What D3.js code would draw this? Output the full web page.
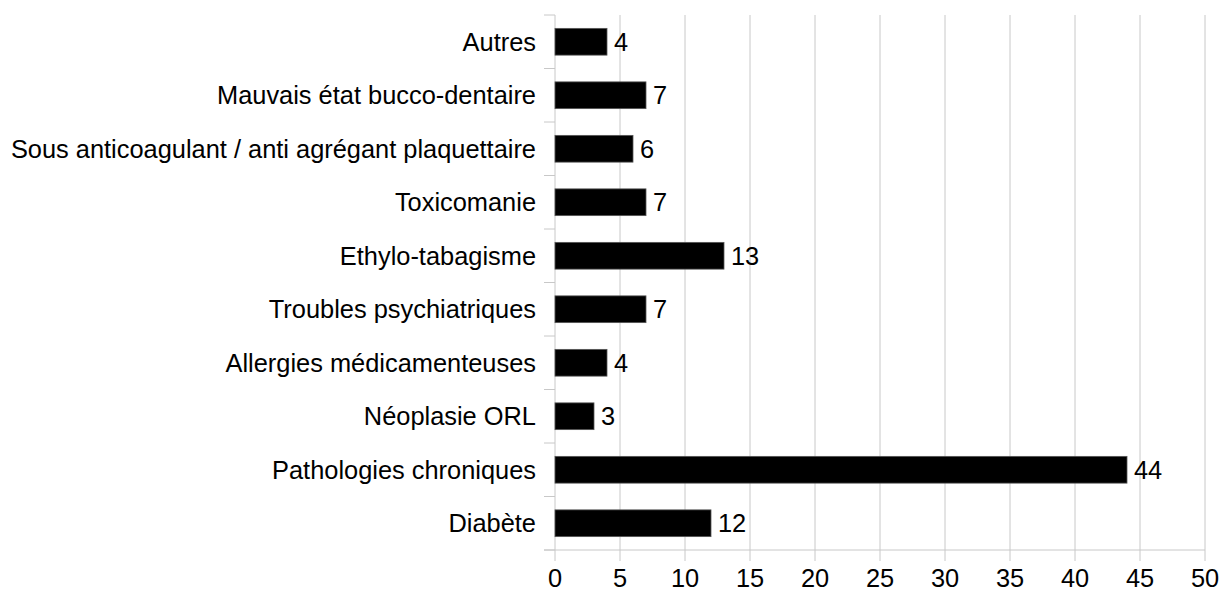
<!DOCTYPE html>
<html lang="fr">
  <head>
    <meta charset="utf-8">
    <title>Antécédents</title>
    <style>
      body { margin: 0; background: #fff; }
      svg { display: block; font-family: "Liberation Sans", Arial, sans-serif; }
    </style>
    <script src="https://d3js.org/d3.v7.min.js"></script>
  </head>
  <body>
    <div class="chart"></div>
    <script>
    const categories = ["Autres", "Mauvais état bucco-dentaire", "Sous anticoagulant / anti agrégant plaquettaire",
      "Toxicomanie", "Ethylo-tabagisme", "Troubles psychiatriques", "Allergies médicamenteuses",
      "Néoplasie ORL", "Pathologies chroniques", "Diabète"]
    const values = [4, 7, 6, 7, 13, 7, 4, 3, 44, 12]
    const xTicks = [0, 5, 10, 15, 20, 25, 30, 35, 40, 45, 50]

    const width = 1222, height = 594
    const margin = { top: 15, right: 17, bottom: 44, left: 555 }
    const fontSize = "25.4px"

    const svg = d3.select(".chart").append("svg")
      .attr("width", width)
      .attr("height", height)

    const x = d3.scaleLinear()
      .domain([0, 50])
      .range([margin.left, width - margin.right])

    const y = d3.scaleBand()
      .domain(categories)
      .range([margin.top, height - margin.bottom])
      .paddingInner(0.5)
      .paddingOuter(0.25)

    // vertical grid + ticks below
    svg.append("g")
      .selectAll("line")
      .data(xTicks)
      .join("line")
      .attr("x1", d => x(d)).attr("x2", d => x(d))
      .attr("y1", margin.top).attr("y2", height - margin.bottom + 11)
      .attr("stroke", "#c8c8c8")
      .attr("stroke-width", 1)

    // category separator ticks on the left
    const step = y.step()
    svg.append("g")
      .selectAll("line")
      .data(d3.range(categories.length + 1))
      .join("line")
      .attr("x1", margin.left - 11).attr("x2", margin.left)
      .attr("y1", i => margin.top + i * step).attr("y2", i => margin.top + i * step)
      .attr("stroke", "#c8c8c8")

    // bottom axis line
    svg.append("line")
      .attr("x1", margin.left - 11).attr("x2", x(50))
      .attr("y1", height - margin.bottom).attr("y2", height - margin.bottom)
      .attr("stroke", "#c8c8c8")

    svg.append("g")
      .selectAll("text")
      .data(xTicks)
      .join("text")
      .attr("x", d => x(d))
      .attr("y", height - 7)
      .attr("text-anchor", "middle")
      .style("font-size", fontSize)
      .text(d => d)

    svg.append("g")
      .selectAll("rect")
      .data(values)
      .join("rect")
      .attr("x", x(0))
      .attr("y", (d, i) => y(categories[i]))
      .attr("width", d => x(d) - x(0))
      .attr("height", y.bandwidth())
      .attr("fill", "#000")
      .attr("stroke", "#555")
      .attr("stroke-width", 0.8)

    svg.append("g")
      .selectAll("text")
      .data(values)
      .join("text")
      .attr("x", d => x(d) + 7)
      .attr("y", (d, i) => y(categories[i]) + y.bandwidth() / 2)
      .attr("dy", "0.36em")
      .style("font-size", fontSize)
      .text(d => d)

    svg.append("g")
      .selectAll("text")
      .data(categories)
      .join("text")
      .attr("x", margin.left - 19)
      .attr("y", d => y(d) + y.bandwidth() / 2)
      .attr("dy", "0.36em")
      .attr("text-anchor", "end")
      .style("font-size", fontSize)
      .text(d => d)
    </script>
  </body>
</html>
